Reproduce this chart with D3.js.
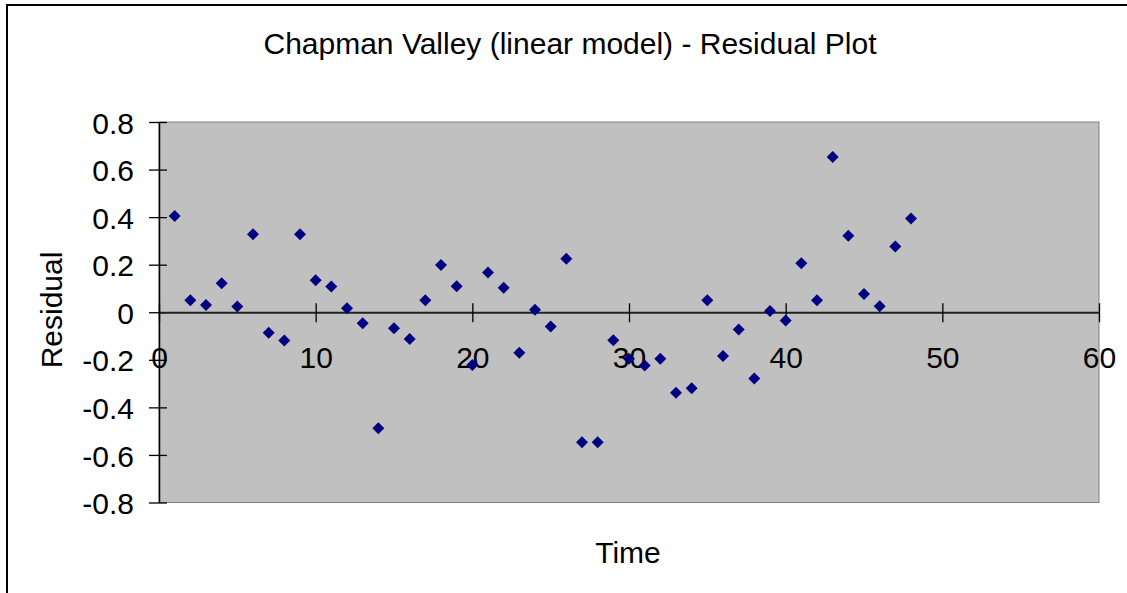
<!DOCTYPE html>
<html>
<head>
<meta charset="utf-8">
<script src="https://cdn.jsdelivr.net/npm/d3@7"></script>
<style>
  body { margin: 0; background: #fff; }
  text { font-family: "Liberation Sans", Arial, sans-serif; fill: #000; }
</style>
</head>
<body>
<svg id="chart" width="1127" height="593"></svg>
<script>
const title = "Chapman Valley (linear model) - Residual Plot";
const xLabel = "Time";
const yLabel = "Residual";
const time = d3.range(1, 49);
const residual = [
  0.405, 0.050, 0.031, 0.122, 0.024, 0.328, -0.086, -0.119, 0.328, 0.135,
  0.108, 0.017, -0.046, -0.488, -0.067, -0.112, 0.050, 0.199, 0.109, -0.222,
  0.167, 0.103, -0.170, 0.011, -0.060, 0.225, -0.547, -0.547, -0.118, -0.196,
  -0.224, -0.196, -0.338, -0.320, 0.050, -0.184, -0.073, -0.279, 0.005, -0.035,
  0.206, 0.050, 0.653, 0.322, 0.077, 0.025, 0.277, 0.394
];
const xTicks = [0, 10, 20, 30, 40, 50, 60];
const yTicks = [-0.8, -0.6, -0.4, -0.2, 0, 0.2, 0.4, 0.6, 0.8];
const yTickLabels = ["-0.8", "-0.6", "-0.4", "-0.2", "0", "0.2", "0.4", "0.6", "0.8"];

const FS = 30;
const svg = d3.select("#chart");
const plot = {left: 159, right: 1099, top: 122, bottom: 502.5};
const x = d3.scaleLinear().domain([0, 60]).range([plot.left, plot.right]);
const y = d3.scaleLinear().domain([-0.8, 0.8]).range([plot.bottom, plot.top]);

// chart border
svg.append("rect").attr("x", 7).attr("y", 5).attr("width", 1140).attr("height", 620)
  .attr("fill", "#fff").attr("stroke", "#000").attr("stroke-width", 2);

// plot area
svg.append("rect").attr("x", plot.left).attr("y", plot.top)
  .attr("width", plot.right - plot.left).attr("height", plot.bottom - plot.top)
  .attr("fill", "#c0c0c0").attr("stroke", "#808080").attr("stroke-width", 1);

// title
svg.append("text").attr("x", 570).attr("y", 54).attr("text-anchor", "middle")
  .attr("font-size", FS).text(title);

// y axis
const yAxis = d3.axisLeft(y).tickValues(yTicks).tickSizeInner(10).tickSizeOuter(0)
  .tickFormat((d, i) => yTickLabels[i]);
const gy = svg.append("g").attr("transform", `translate(${plot.left},0)`).call(yAxis);
gy.select(".domain").attr("stroke", "#000").attr("stroke-width", 1.5);
gy.selectAll(".tick line").attr("stroke", "#000").attr("stroke-width", 1.3).attr("x2", -10).attr("x1", 8);
gy.selectAll(".tick text").attr("font-size", FS).attr("font-family", "Liberation Sans, Arial, sans-serif")
  .attr("dy", "0.37em").attr("x", -25);

// x axis at zero
const xAxis = d3.axisBottom(x).tickValues(xTicks).tickSizeInner(10).tickSizeOuter(0);
const gx = svg.append("g").attr("transform", `translate(0,${y(0)})`).call(xAxis);
gx.select(".domain").attr("stroke", "#222").attr("stroke-width", 2);
gx.selectAll(".tick line").attr("stroke", "#000").attr("stroke-width", 1.3).attr("y1", -9).attr("y2", 10);
gx.selectAll(".tick text").attr("font-size", FS).attr("font-family", "Liberation Sans, Arial, sans-serif")
  .attr("y", 56).attr("dy", 0);

// points
const diamond = d3.symbol().type(d3.symbolSquare).size(72);
svg.append("g").selectAll("path").data(time).join("path")
  .attr("d", diamond)
  .attr("transform", (d, i) => `translate(${x(d)},${y(residual[i])}) rotate(45)`)
  .attr("fill", "#000080");

// axis labels
svg.append("text").attr("x", 628).attr("y", 563).attr("text-anchor", "middle")
  .attr("font-size", FS).text(xLabel);
svg.append("text").attr("transform", "translate(61.5,310) rotate(-90)")
  .attr("text-anchor", "middle").attr("font-size", FS).text(yLabel);
</script>
</body>
</html>
